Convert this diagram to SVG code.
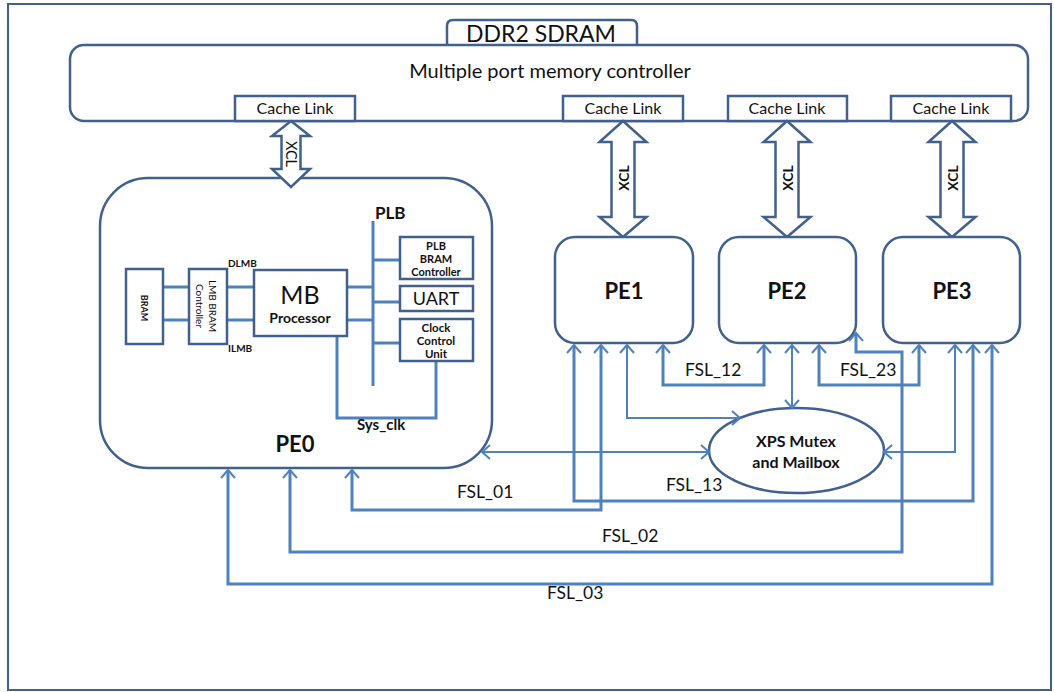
<svg xmlns="http://www.w3.org/2000/svg" width="1054" height="692" viewBox="0 0 1054 692">
<defs>
<style>
.nb{fill:#fff;stroke:#41618c;stroke-width:2.5}
.bus{fill:none;stroke:#4f81bd;stroke-width:3}
.fsl{fill:none;stroke:#4f81bd;stroke-width:3;marker-start:url(#ah);marker-end:url(#ah)}
.thin{fill:none;stroke:#4f81bd;stroke-width:2;marker-start:url(#ah);marker-end:url(#ah)}
text{font-family:Lato,"Liberation Sans",sans-serif;fill:#111}
.b{font-weight:bold}
.m{text-anchor:middle}
.lbl{font-size:17.5px}
.cl{font-size:16px;text-anchor:middle}
.pe{font-size:22px;font-weight:bold;text-anchor:middle}
</style>
<marker id="ah" viewBox="-10 -9 12 18" refX="0" refY="0" markerWidth="12" markerHeight="18" markerUnits="userSpaceOnUse" orient="auto-start-reverse">
<path d="M-8,-7 L0,0 L-8,7" fill="none" stroke="#4f81bd" stroke-width="2"/>
</marker>
</defs>
<rect x="8" y="4" width="1043" height="686" fill="#fff" stroke="#41618c" stroke-width="2"/>

<g id="ddr2">
<path d="M447,45 V26 Q447,20 453,20 H631 Q637,20 637,26 V45" class="nb"/>
<text x="541" y="42" class="m" font-size="23">DDR2 SDRAM</text>
</g>
<g id="mpmc">
<rect x="70" y="45" width="958" height="76" rx="14" class="nb"/>
<text x="550" y="78" class="m" font-size="20">Multiple port memory controller</text>
</g>
<g id="cl0"><rect x="235" y="96" width="120" height="25" class="nb"/><text x="295" y="114" class="cl">Cache Link</text></g>
<g id="cl1"><rect x="563" y="96" width="120" height="25" class="nb"/><text x="623" y="114" class="cl">Cache Link</text></g>
<g id="cl2"><rect x="728" y="96" width="119" height="25" class="nb"/><text x="787" y="114" class="cl">Cache Link</text></g>
<g id="cl3"><rect x="891" y="96" width="120" height="25" class="nb"/><text x="951" y="114" class="cl">Cache Link</text></g>

<g id="pe0">
<rect x="100" y="178" width="392" height="290" rx="48" class="nb"/>
<text x="295" y="452" class="pe" font-size="24">PE0</text>
</g>
<g id="xcl0">
<polygon points="291,121 310,136 300.5,136 300.5,169 310,169 291,187 272,169 281.5,169 281.5,136 272,136" class="nb"/>
<text transform="translate(291,154) rotate(90)" class="m" dominant-baseline="central" font-size="14.5">XCL</text>
</g>
<g id="pe0-bus">
<path d="M163,287 H189 M163,320 H189 M227,287 H254 M227,320 H254 M347,287 H373 M347,320 H373 M373,221 V386 M373,260 H400 M373,302 H400 M373,343 H400 M337,336 V418 H436 V361" class="bus"/>
</g>
<g id="bram"><rect x="126" y="269" width="37" height="75" class="nb"/><text transform="translate(144,308) rotate(90)" class="m b" dominant-baseline="central" font-size="9">BRAM</text></g>
<g id="lmbctrl"><rect x="189" y="269" width="38" height="75" class="nb"/>
<text transform="translate(213,306) rotate(90)" class="m" dominant-baseline="central" font-size="10">LMB BRAM</text>
<text transform="translate(200,306) rotate(90)" class="m" dominant-baseline="central" font-size="10">Controller</text></g>
<text x="228" y="267" class="b" font-size="10">DLMB</text>
<text x="228" y="352" class="b" font-size="10">ILMB</text>
<g id="mb"><rect x="254" y="270" width="93" height="66" class="nb"/>
<text x="300" y="304" class="m" font-size="25">MB</text>
<text x="300" y="323" class="m b" font-size="14">Processor</text></g>
<text x="375" y="219" class="b" font-size="17">PLB</text>
<g id="plbbram"><rect x="400" y="237" width="73" height="42" class="nb"/>
<text x="436" y="250" class="m b" font-size="11">PLB</text>
<text x="436" y="263" class="m b" font-size="11">BRAM</text>
<text x="436" y="276" class="m b" font-size="11">Controller</text></g>
<g id="uart"><rect x="400" y="286" width="73" height="25" class="nb"/><text x="436" y="305" class="m" font-size="18">UART</text></g>
<g id="ccu"><rect x="400" y="319" width="73" height="42" class="nb"/>
<text x="436" y="332" class="m b" font-size="11.5">Clock</text>
<text x="436" y="345" class="m b" font-size="11.5">Control</text>
<text x="436" y="358" class="m b" font-size="11.5">Unit</text></g>
<text x="357" y="430" class="b" font-size="15">Sys_clk</text>

<g id="xcl1"><polygon points="623,121 646.5,142 634.5,142 634.5,217 646.5,217 623,237 599.5,217 611.5,217 611.5,142 599.5,142" class="nb"/>
<text transform="translate(623,178) rotate(-90)" class="m b" dominant-baseline="central" font-size="14">XCL</text></g>
<g id="xcl2"><polygon points="787,121 810.5,142 798.5,142 798.5,217 810.5,217 787,237 763.5,217 775.5,217 775.5,142 763.5,142" class="nb"/>
<text transform="translate(787,178) rotate(-90)" class="m b" dominant-baseline="central" font-size="14">XCL</text></g>
<g id="xcl3"><polygon points="952,121 975.5,142 963.5,142 963.5,217 975.5,217 952,237 928.5,217 940.5,217 940.5,142 928.5,142" class="nb"/>
<text transform="translate(952,178) rotate(-90)" class="m b" dominant-baseline="central" font-size="14">XCL</text></g>

<g id="pe1"><rect x="555" y="237" width="138" height="106" rx="20" class="nb"/><text x="624" y="299" class="pe">PE1</text></g>
<g id="pe2"><rect x="719" y="237" width="137" height="106" rx="20" class="nb"/><text x="787" y="299" class="pe">PE2</text></g>
<g id="pe3"><rect x="883" y="237" width="137" height="106" rx="20" class="nb"/><text x="952" y="299" class="pe">PE3</text></g>

<g id="xps"><ellipse cx="796.5" cy="450.5" rx="87.5" ry="42.5" class="nb"/>
<text x="796" y="447" class="m b" font-size="16">XPS Mutex</text>
<text x="796" y="468" class="m b" font-size="16">and Mailbox</text></g>

<g id="connectors">
<path d="M601,345 V510 H352 V470" class="fsl"/>
<path d="M290,470 V552 H902 V352 H856 V333" class="fsl"/>
<path d="M228,470 V584 H992 V345" class="fsl"/>
<path d="M663,345 V385 H764 V345" class="fsl"/>
<path d="M574,345 V501 H973 V345" class="fsl"/>
<path d="M819,345 V385 H919 V345" class="fsl"/>
<path d="M627,345 V418 H740" class="thin"/>
<path d="M792,345 V408" class="thin"/>
<path d="M955,345 V452 H884" class="thin"/>
<path d="M482,452 H709" class="thin"/>
</g>
<text x="457" y="498" class="lbl">FSL_01</text>
<text x="666" y="491" class="lbl">FSL_13</text>
<text x="602" y="542" class="lbl">FSL_02</text>
<text x="547" y="599" class="lbl">FSL_03</text>
<text x="685" y="376" class="lbl">FSL_12</text>
<text x="840" y="376" class="lbl">FSL_23</text>
</svg>
